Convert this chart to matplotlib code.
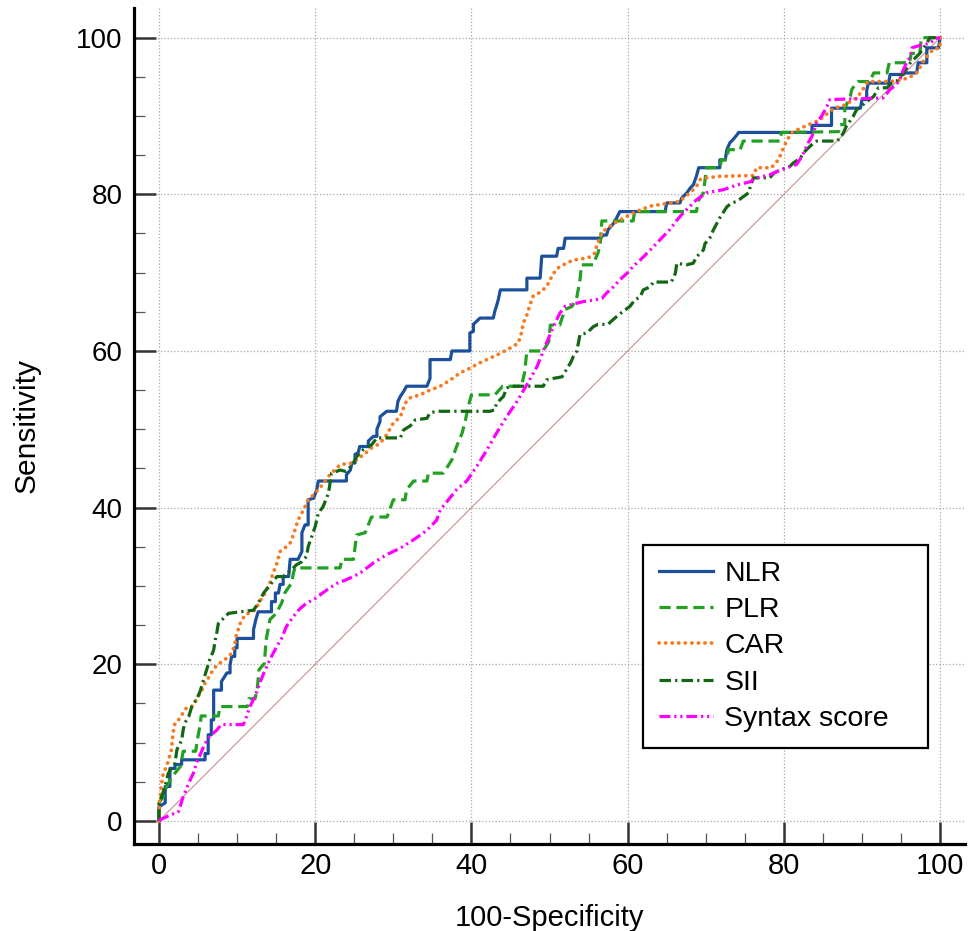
import matplotlib
matplotlib.use("Agg")
import matplotlib.pyplot as plt
from matplotlib.ticker import MultipleLocator

# ROC curves: (100-Specificity, Sensitivity)
nlr = [(0, 0), (0, 1.8), (0.8, 2.3), (0.8, 4.4), (1.4, 4.4), (1.4, 6.7), (2.05, 6.7), (2.05, 7.2),
       (2.9, 7.2), (2.9, 7.8), (5.9, 7.8), (5.9, 8.6), (6.3, 8.6), (6.3, 11.0), (6.7, 11.0),
       (6.7, 12.9), (7.0, 12.9), (7.0, 16.7), (8.0, 16.7), (8.0, 17.8), (8.7, 18.9), (9.1, 18.9),
       (9.1, 19.9), (9.3, 21.0), (9.7, 21.0), (9.7, 22.1), (10.0, 22.1), (10.0, 23.3), (12.1, 23.3),
       (12.1, 24.4), (12.4, 25.7), (12.7, 26.7), (14.4, 26.7), (14.4, 28.0), (14.9, 28.0),
       (14.9, 29.1), (15.3, 29.1), (15.5, 30.2), (15.9, 30.2), (15.9, 31.2), (16.6, 31.2),
       (16.8, 33.4), (17.8, 33.4), (18.3, 34.4), (18.3, 36.8), (18.7, 37.8), (19.1, 37.8),
       (19.1, 41.0), (19.8, 41.2), (20.2, 42.3), (20.4, 43.4), (24.0, 43.4), (24.0, 44.2),
       (24.5, 44.8), (24.7, 45.7), (25.1, 45.7), (25.1, 46.8), (25.5, 47.0), (25.7, 47.8),
       (26.8, 47.8), (26.8, 48.5), (27.45, 49.1), (27.9, 49.1), (27.9, 50.0), (28.3, 51.0),
       (28.3, 51.6), (29.15, 52.3), (30.4, 52.3), (30.6, 53.6), (30.9, 54.2), (31.3, 54.8),
       (31.7, 55.5), (34.3, 55.5), (34.7, 56.5), (34.7, 58.9), (37.3, 58.9), (37.5, 60.0),
       (39.8, 60.0), (39.8, 62.3), (40.25, 62.5), (40.25, 63.4), (41.1, 64.2), (42.8, 64.2),
       (43.0, 65.1), (43.2, 65.7), (43.45, 66.6), (43.7, 67.8), (47.1, 67.8), (47.1, 69.3),
       (48.8, 69.3), (49.0, 72.1), (50.9, 72.1), (51.1, 73.1), (51.8, 73.1), (52.0, 74.4),
       (56.5, 74.4), (56.9, 74.8), (57.3, 74.8), (57.5, 75.5), (58.2, 76.3), (58.6, 77.0),
       (59.0, 77.8), (64.8, 77.8), (65.0, 78.9), (66.7, 78.9), (66.9, 79.5), (67.6, 80.2),
       (68.0, 80.8), (68.4, 81.2), (68.8, 82.3), (69.1, 83.4), (71.8, 83.4), (71.8, 84.4),
       (72.5, 84.4), (72.7, 85.7), (73.1, 86.6), (73.5, 87.0), (74.0, 87.6), (74.2, 87.9),
       (83.6, 87.9), (83.6, 88.8), (86.1, 88.8), (86.1, 91.0), (89.8, 91.0), (90.0, 92.1),
       (90.6, 92.1), (90.6, 93.2), (90.8, 94.2), (93.4, 94.2), (93.6, 95.3), (95.3, 95.3),
       (95.5, 95.5), (97.0, 95.5), (97.2, 96.8), (98.3, 96.8), (98.3, 98.7), (99.8, 98.7),
       (100, 100)]

plr = [(0, 0), (0, 2.3), (0.55, 3.1), (1.0, 4.4), (1.4, 5.2), (2.05, 6.1), (2.7, 6.9), (2.9, 7.8),
       (3.1, 8.9), (4.7, 8.9), (4.9, 10.3), (5.3, 12.4), (5.4, 13.4), (7.6, 13.4), (7.8, 14.6),
       (11.3, 14.6), (11.5, 15.6), (12.3, 15.6), (12.6, 17.0), (12.8, 19.3), (13.5, 20.1),
       (13.7, 23.0), (14.2, 25.7), (15.0, 26.5), (15.7, 27.8), (16.1, 29.1), (17.0, 30.4),
       (17.2, 31.6), (17.4, 32.3), (23.2, 32.3), (23.4, 33.4), (24.9, 33.4), (25.3, 36.5),
       (26.4, 36.8), (27.2, 38.8), (29.2, 38.8), (29.6, 39.9), (30.0, 41.0), (31.5, 41.0),
       (31.7, 42.3), (32.6, 43.4), (34.3, 43.4), (34.5, 44.4), (36.4, 44.4), (37.5, 46.1),
       (38.1, 47.8), (38.8, 49.5), (39.2, 51.0), (39.6, 52.9), (40.0, 54.4), (43.0, 54.4),
       (44.0, 55.5), (46.4, 55.5), (46.8, 57.2), (47.1, 60.0), (49.2, 60.0), (49.9, 61.2),
       (50.1, 63.3), (51.3, 63.3), (51.6, 64.2), (52.0, 65.3), (52.9, 65.7), (53.5, 66.9),
       (53.9, 69.1), (54.1, 71.0), (55.6, 71.0), (55.8, 71.6), (56.2, 72.5), (56.5, 73.7),
       (56.7, 76.6), (60.7, 76.6), (60.9, 77.8), (68.8, 77.8), (69.1, 79.3), (69.7, 80.2),
       (70.1, 83.4), (71.8, 83.4), (72.0, 84.4), (72.7, 84.4), (72.9, 85.7), (74.4, 85.7),
       (74.8, 86.8), (79.5, 86.8), (79.7, 87.9), (87.0, 88.0), (87.2, 88.9), (87.8, 88.9),
       (87.8, 91.0), (88.5, 92.5), (88.7, 93.4), (89.3, 94.2), (89.5, 94.4), (91.0, 94.4),
       (91.5, 95.5), (93.2, 95.5), (93.5, 96.8), (96.1, 96.8), (96.3, 98.0), (97.4, 98.0),
       (97.6, 100), (100, 100)]

car = [(0, 0), (0.1, 2.7), (0.34, 4.8), (0.55, 6.1), (1.0, 7.0), (1.6, 9.1), (1.8, 11.2),
       (2.05, 12.5), (2.5, 12.9), (2.9, 13.5), (3.5, 14.4), (4.2, 14.6), (4.8, 15.5), (5.5, 16.7),
       (5.9, 17.6), (6.3, 18.2), (6.7, 18.9), (7.4, 19.9), (8.45, 20.6), (9.3, 21.4), (9.7, 22.5),
       (9.9, 23.7), (10.4, 25.2), (11.0, 26.3), (12.3, 26.9), (12.9, 28.0), (13.6, 29.1),
       (14.2, 30.4), (14.6, 31.6), (15.1, 32.9), (15.5, 34.4), (16.3, 35.0), (16.8, 35.5),
       (17.2, 36.5), (17.8, 38.4), (18.5, 39.7), (19.1, 41.0), (19.55, 41.4), (20.6, 42.5),
       (21.7, 44.0), (22.5, 44.8), (23.2, 45.5), (24.9, 45.7), (25.5, 46.3), (26.2, 46.75),
       (27.2, 47.6), (28.3, 48.2), (29.15, 49.3), (30.0, 50.8), (30.9, 51.6), (31.5, 53.3),
       (32.1, 54.0), (33.4, 54.4), (34.7, 55.0), (36.0, 55.5), (37.3, 56.3), (38.55, 57.2),
       (39.8, 57.8), (41.1, 58.5), (42.4, 59.1), (43.7, 59.7), (45.0, 60.4), (46.0, 61.0),
       (46.4, 62.3), (46.65, 63.6), (47.1, 64.6), (47.5, 65.9), (47.9, 67.0), (48.8, 67.5),
       (49.6, 68.2), (50.5, 69.9), (51.3, 70.8), (52.2, 71.2), (53.0, 71.6), (54.3, 71.8),
       (55.2, 72.0), (55.8, 72.5), (56.0, 73.3), (56.5, 74.6), (56.9, 75.3), (57.7, 75.9),
       (58.6, 76.5), (59.9, 77.2), (61.1, 77.8), (62.9, 78.5), (64.2, 78.7), (65.4, 78.9),
       (66.7, 79.1), (67.1, 79.5), (68.0, 80.2), (68.8, 81.0), (69.3, 81.9), (70.1, 82.1),
       (71.8, 82.3), (76.1, 82.4), (76.5, 83.4), (78.4, 83.4), (79.3, 84.4), (80.1, 86.3),
       (80.8, 87.6), (81.2, 88.0), (82.5, 88.6), (84.6, 89.5), (86.4, 91.0), (87.6, 91.3),
       (89.3, 92.3), (90.0, 93.2), (90.6, 94.2), (90.8, 94.4), (93.6, 94.4), (95.1, 94.6),
       (96.2, 95.0), (97.2, 95.7), (97.7, 96.8), (98.3, 97.6), (99.1, 98.5), (100, 98.7),
       (100, 100)]

sii = [(0, 0), (0, 2.3), (0.34, 3.1), (0.77, 4.4), (1.2, 6.1), (1.6, 6.7), (2.05, 7.4), (2.3, 9.1),
       (2.9, 10.3), (3.1, 11.6), (3.3, 12.5), (3.8, 13.3), (4.2, 14.6), (4.8, 15.5), (5.25, 16.5),
       (5.7, 18.0), (6.1, 19.3), (6.5, 20.6), (7.0, 21.8), (7.2, 23.1), (7.4, 24.0), (7.6, 25.2),
       (8.9, 26.5), (10.4, 26.7), (12.1, 26.9), (12.7, 27.8), (13.4, 29.1), (14.2, 30.1),
       (15.1, 31.2), (15.9, 31.2), (17.0, 32.1), (17.6, 32.7), (18.3, 33.1), (18.9, 33.8),
       (19.1, 35.0), (19.55, 36.3), (20.0, 37.6), (20.4, 39.3), (21.0, 40.1), (21.7, 41.85),
       (22.1, 44.4), (23.2, 44.8), (24.0, 44.6), (24.9, 45.7), (25.3, 46.5), (26.15, 47.4),
       (27.2, 48.0), (27.9, 48.9), (30.9, 48.9), (31.3, 49.9), (32.1, 50.4), (32.6, 50.8),
       (32.8, 51.2), (34.3, 51.4), (34.7, 52.1), (35.55, 52.3), (42.4, 52.3), (43.0, 52.5),
       (43.2, 53.3), (44.1, 54.2), (44.5, 55.25), (44.95, 55.5), (49.2, 55.5), (49.6, 56.3),
       (50.5, 56.5), (51.6, 56.7), (52.7, 58.5), (53.05, 59.3), (53.5, 60.0), (53.9, 62.1),
       (54.8, 62.3), (55.6, 63.1), (56.2, 63.4), (57.5, 63.4), (57.9, 63.8), (58.6, 64.4),
       (59.4, 65.05), (60.3, 65.7), (60.9, 66.5), (61.6, 66.9), (62.0, 67.8), (62.9, 68.2),
       (63.3, 68.8), (65.6, 68.8), (66.1, 69.9), (66.3, 71.2), (67.5, 71.0), (68.4, 71.2),
       (68.8, 72.0), (69.7, 72.9), (69.9, 73.7), (70.5, 74.4), (71.0, 75.5), (71.8, 77.0),
       (72.7, 78.4), (73.3, 78.9), (74.0, 79.1), (74.8, 79.7), (75.5, 80.2), (75.7, 81.0),
       (76.1, 82.1), (78.2, 82.1), (78.7, 82.7), (79.5, 83.1), (80.4, 83.4), (80.8, 83.6),
       (81.2, 84.0), (82.1, 84.6), (82.5, 85.3), (83.1, 85.9), (83.8, 86.55), (84.2, 86.8),
       (86.8, 86.8), (87.2, 87.2), (87.6, 87.8), (88.0, 88.7), (88.9, 90.0), (89.3, 90.8),
       (89.9, 91.2), (90.4, 91.7), (91.5, 92.5), (92.1, 93.6), (93.2, 93.6), (93.8, 94.2),
       (94.4, 94.4), (95.3, 95.5), (96.2, 96.8), (97.0, 97.6), (97.4, 98.0), (98.3, 99.3),
       (98.7, 100), (100, 100)]

syntax = [(0, 0), (0.13, 0.13), (1.0, 0.55), (2.5, 1.2), (3.1, 3.1), (3.8, 4.8), (4.4, 6.1),
          (4.8, 7.4), (5.25, 8.4), (5.9, 9.9), (6.5, 10.8), (7.4, 11.6), (8.0, 12.3), (10.8, 12.3),
          (11.2, 13.3), (11.65, 14.6), (12.3, 15.9), (12.9, 17.6), (13.6, 19.3), (14.2, 20.6),
          (15.1, 22.3), (15.7, 23.3), (16.3, 24.8), (17.2, 26.1), (18.05, 27.1), (18.9, 27.8),
          (20.0, 28.4), (21.5, 29.5), (22.7, 30.3), (24.0, 30.8), (25.7, 31.6), (27.4, 32.9),
          (29.15, 34.0), (30.85, 34.8), (32.6, 35.9), (34.3, 37.1), (35.55, 38.4), (36.0, 39.7),
          (38.1, 42.3), (39.4, 43.4), (40.7, 45.3), (42.0, 47.4), (43.2, 49.5), (44.5, 51.6),
          (45.8, 53.5), (47.1, 55.7), (48.4, 58.0), (49.6, 61.0), (50.5, 63.1), (51.3, 64.8),
          (52.0, 65.7), (53.1, 66.0), (54.3, 66.3), (55.6, 66.5), (56.7, 66.7), (57.3, 67.4),
          (58.2, 68.2), (59.0, 69.1), (59.9, 69.9), (60.7, 70.8), (61.6, 71.6), (62.9, 72.9),
          (64.15, 74.2), (65.4, 75.5), (66.3, 76.7), (67.1, 77.6), (68.8, 79.3), (70.1, 80.2),
          (72.3, 80.6), (74.0, 81.2), (75.7, 81.6), (76.5, 82.1), (78.2, 82.5), (79.1, 82.9),
          (80.4, 83.4), (81.6, 83.8), (82.3, 84.8), (82.7, 85.7), (83.1, 86.55), (83.6, 87.4),
          (84.2, 89.1), (84.9, 90.1), (85.5, 91.2), (85.9, 92.1), (92.7, 92.3), (93.2, 92.9),
          (93.6, 93.4), (94.4, 94.0), (94.9, 94.8), (95.3, 95.9), (95.7, 96.8), (96.2, 97.6),
          (96.4, 98.7), (97.0, 98.9), (98.7, 99.3), (99.4, 99.9), (100, 100)]

labels = ["NLR", "PLR", "CAR", "SII", "Syntax score"]
curves = [nlr, plr, car, sii, syntax]
colors = ["#1c4f9c", "#22a022", "#f97a1e", "#136613", "#ff00ff"]
styles = ["-", (0, (3.5, 1.8)), (0, (0.05, 1.7)), (0, (3.6, 1.3, 0.7, 1.3)),
          (0, (3.4, 1.2, 0.7, 1.2, 0.7, 1.2))]
widths = [2.3, 2.3, 2.7, 2.3, 2.3]

fig = plt.figure(figsize=(9.68, 9.31), dpi=100)
ax = fig.add_axes([0.1384, 0.0935, 0.8586, 0.898])

font = ["Liberation Sans", "DejaVu Sans"]

# chance diagonal
ax.plot([0, 100], [0, 100], color="#c89090", lw=0.8, zorder=2)

for pts, lab, col, ls, lw in zip(curves, labels, colors, styles, widths):
    xs = [p[0] for p in pts]
    ys = [p[1] for p in pts]
    line, = ax.plot(xs, ys, color=col, lw=lw, linestyle=ls, label=lab, zorder=3)
    if lab == "CAR":
        line.set_dash_capstyle("round")

ax.set_xlim(-3.2, 103.2)
ax.set_ylim(-2.94, 103.8)

ax.xaxis.set_major_locator(MultipleLocator(20))
ax.yaxis.set_major_locator(MultipleLocator(20))
ax.xaxis.set_minor_locator(MultipleLocator(5))
ax.yaxis.set_minor_locator(MultipleLocator(5))
ax.set_xticks([0, 20, 40, 60, 80, 100])
ax.set_yticks([0, 20, 40, 60, 80, 100])

ax.grid(which="major", color="#a8a8a8", linestyle=":", linewidth=0.9)
ax.set_axisbelow(True)

for side in ["top", "right"]:
    ax.spines[side].set_visible(False)
for side in ["left", "bottom"]:
    ax.spines[side].set_linewidth(2.3)
    ax.spines[side].set_color("black")

ax.tick_params(which="major", direction="in", length=16, width=1.8, color="#333333")
ax.tick_params(which="minor", direction="in", length=8, width=0.9, color="#555555")
ax.tick_params(axis="y", which="major", pad=8)
ax.tick_params(axis="x", which="major", pad=6)

for t in ax.get_yticklabels():
    t.set_fontfamily(font)
    t.set_fontsize(20)
for t in ax.get_xticklabels():
    t.set_fontfamily(font)
    t.set_fontsize(21)

ax.set_xlabel("100-Specificity", family=font, fontsize=21, labelpad=17)
ax.set_ylabel("Sensitivity", family=font, fontsize=21.5, labelpad=26)

leg_h = 201 / 836
leg = ax.legend(loc="upper left", bbox_to_anchor=(0.6125, 0.3577 - leg_h, 0.343, leg_h),
                mode="expand", borderaxespad=0,
                prop={"family": font, "size": 20.5}, frameon=True, fancybox=False,
                handlelength=1.9, handletextpad=0.4, labelspacing=0.36, borderpad=0.56)
leg.get_frame().set_edgecolor("black")
leg.get_frame().set_linewidth(1.6)
leg.get_frame().set_alpha(1)

fig.savefig("out.png", dpi=100)
